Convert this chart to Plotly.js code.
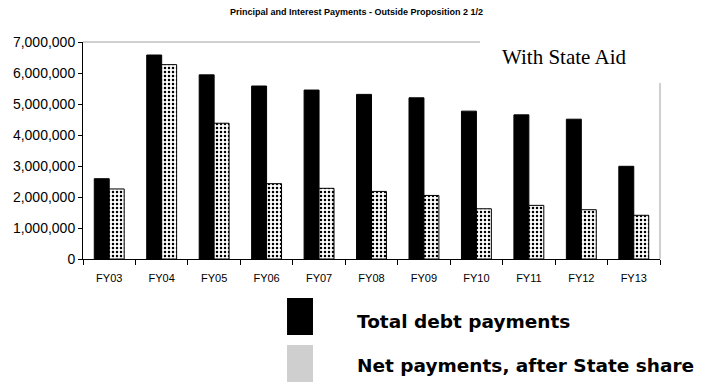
<!DOCTYPE html>
<html><head><meta charset="utf-8">
<script src="https://cdn.plot.ly/plotly-3.0.1.min.js"></script>
<style>html,body{margin:0;padding:0;background:#fff}#c{width:713px;height:383px}</style>
</head><body><div id="c"></div>
<script>
var categories = ["FY03","FY04","FY05","FY06","FY07","FY08","FY09","FY10","FY11","FY12","FY13"];
var totalDebt = [2590000,6580000,5940000,5580000,5450000,5310000,5200000,4770000,4650000,4510000,2990000];
var netPayments = [2260000,6270000,4380000,2430000,2280000,2180000,2050000,1620000,1730000,1590000,1410000];
var yTicks = [0,1000000,2000000,3000000,4000000,5000000,6000000,7000000];
var yTickText = ["0","1,000,000","2,000,000","3,000,000","4,000,000","5,000,000","6,000,000","7,000,000"];
var seriesNames = ["Total debt payments","Net payments, after State share"];

var traces = [
  {type:"bar", x:categories, y:totalDebt, name:seriesNames[0],
   marker:{color:"#000", line:{color:"#000", width:1}}},
  {type:"bar", x:categories, y:netPayments, name:seriesNames[1],
   marker:{color:"#fff", line:{color:"#000", width:1},
           pattern:{shape:".", fgcolor:"#000", bgcolor:"#fff", size:4, solidity:0.3}}}
];
var legendFont = {family:"DejaVu Sans, Verdana", size:18.5, color:"#000", weight:"bold"};
var layout = {
  width:713, height:383,
  margin:{l:83, r:53, t:42, b:124},
  paper_bgcolor:"#fff", plot_bgcolor:"#fff",
  barmode:"group", bargap:0.43, bargroupgap:0,
  title:{text:"<b>Principal and Interest Payments - Outside Proposition 2 1/2</b>",
         font:{family:"Liberation Sans Narrow, Arial Narrow, Liberation Sans, Arial", size:9, color:"#000"},
         x:0.5, xanchor:"center", y:0.97, yanchor:"middle"},
  font:{family:"Liberation Sans, Arial", color:"#000"},
  xaxis:{showline:true, linecolor:"#000", linewidth:1, ticks:"outside", tickson:"boundaries",
         ticklen:5, tickcolor:"#000", tickfont:{size:11}, ticklabelstandoff:9,
         showgrid:false, zeroline:false},
  yaxis:{range:[0,7000000], tickvals:yTicks, ticktext:yTickText, showline:true, linecolor:"#000",
         linewidth:1, ticks:"outside", ticklen:4, tickcolor:"#000", tickfont:{size:14},
         showgrid:false, zeroline:false},
  showlegend:false,
  shapes:[
    {type:"line", xref:"paper", yref:"paper", x0:0, x1:0.688, y0:1, y1:1, line:{color:"#a0a0a0", width:1}},
    {type:"line", xref:"paper", yref:"paper", x0:1, x1:1, y0:0, y1:0.811, line:{color:"#c0c0c0", width:1.5}},
    {type:"rect", xref:"paper", yref:"paper", x0:0.3536, x1:0.3986, y0:-0.1797, y1:-0.3502,
     fillcolor:"#000", line:{width:0}},
    {type:"rect", xref:"paper", yref:"paper", x0:0.3536, x1:0.3986, y0:-0.3963, y1:-0.5668,
     fillcolor:"#cfcfcf", line:{width:0}}
  ],
  annotations:[
    {text:"With State Aid", xref:"paper", yref:"paper", x:0.7227, y:0.93, xanchor:"left", yanchor:"middle",
     showarrow:false, font:{family:"Liberation Serif, Times New Roman", size:21, color:"#000"}},
    {text:seriesNames[0], xref:"paper", yref:"paper", x:0.4714, y:-0.2903, xanchor:"left", yanchor:"middle",
     showarrow:false, font:legendFont},
    {text:seriesNames[1], xref:"paper", yref:"paper", x:0.4714, y:-0.4885, xanchor:"left", yanchor:"middle",
     showarrow:false, font:legendFont}
  ]
};
Plotly.newPlot("c", traces, layout, {displayModeBar:false, staticPlot:true});
</script></body></html>
